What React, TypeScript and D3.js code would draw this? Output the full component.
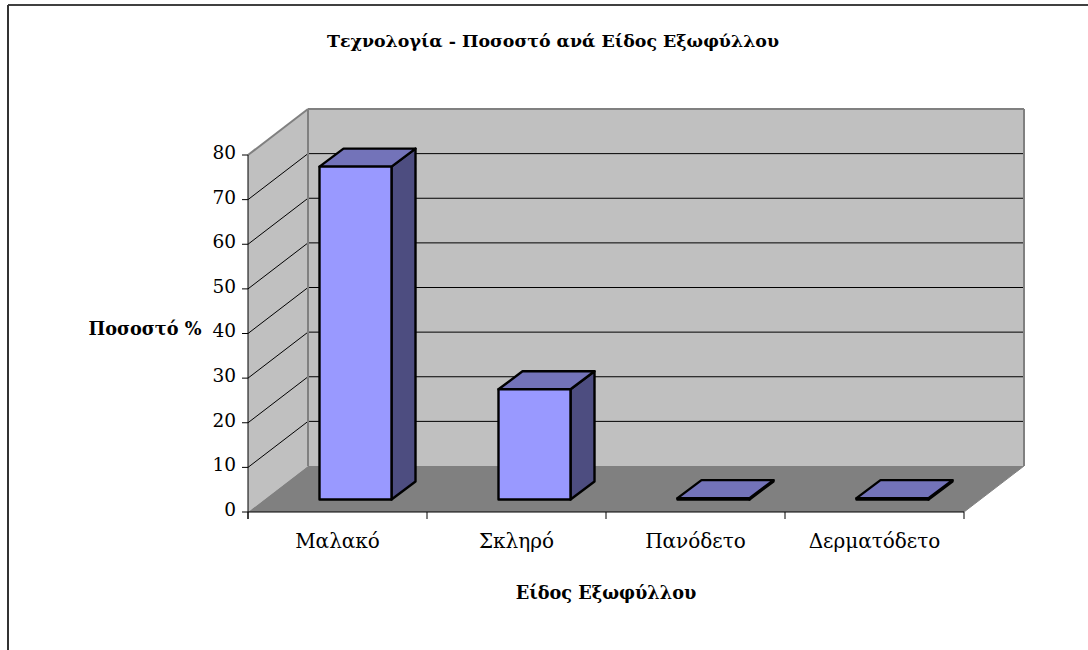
import { useEffect, useRef } from 'react';
import * as d3 from 'd3';

const title = 'Τεχνολογία - Ποσοστό ανά Είδος Εξωφύλλου';
const yTitle = 'Ποσοστό %';
const xTitle = 'Είδος Εξωφύλλου';
const categories = ['Μαλακό', 'Σκληρό', 'Πανόδετο', 'Δερματόδετο'];
const values = [74.6, 24.7, 0.3, 0.3];
const yTicks = [0, 10, 20, 30, 40, 50, 60, 70, 80];

const FONT = '"DejaVu Serif", serif';
const WIDTH = 1088;
const HEIGHT = 650;

function App() {
  const svgRef = useRef<SVGSVGElement>(null);

  useEffect(() => {
    const svg = d3.select(svgRef.current);
    svg.selectAll('*').remove();

    // front edge of the floor, the back wall sits up and right of it
    const y = d3.scaleLinear().domain([0, 80]).range([512, 155]);
    const x = d3.scaleBand<string>().domain(categories).range([248, 964]);
    const depthX = 60;
    const depthY = -46;
    const left = x.range()[0];
    const right = x.range()[1];
    const y0 = y(0);
    const yMax = y(80);

    const poly = (pts: [number, number][], fill: string, stroke = 'none', sw = 0) =>
      svg
        .append('path')
        .attr('d', d3.line()(pts) + 'Z')
        .attr('fill', fill)
        .attr('stroke', stroke)
        .attr('stroke-width', sw)
        .attr('stroke-linejoin', 'round');
    const seg = (x1: number, y1: number, x2: number, y2: number, color: string, sw = 1) =>
      svg
        .append('line')
        .attr('x1', x1)
        .attr('y1', y1)
        .attr('x2', x2)
        .attr('y2', y2)
        .attr('stroke', color)
        .attr('stroke-width', sw);

    // picture frame, only top and left show
    svg.append('rect').attr('width', WIDTH).attr('height', HEIGHT).attr('fill', '#fff');
    seg(8, 5, WIDTH, 5, '#000', 1.5);
    seg(8, 5, 8, HEIGHT, '#333', 2);

    // walls and floor
    poly([[left + depthX, y0 + depthY], [right + depthX, y0 + depthY], [right + depthX, yMax + depthY], [left + depthX, yMax + depthY]], '#c0c0c0');
    poly([[left, y0], [left + depthX, y0 + depthY], [left + depthX, yMax + depthY], [left, yMax]], '#c0c0c0');
    poly([[left, y0], [right, y0], [right + depthX, y0 + depthY], [left + depthX, y0 + depthY]], '#808080');

    // gridlines
    yTicks.slice(1, -1).forEach((t) => {
      seg(left, y(t), left + depthX, y(t) + depthY, '#000');
      seg(left + depthX, y(t) + depthY, right + depthX, y(t) + depthY, '#000');
    });

    // wall outlines
    seg(left, yMax, left + depthX, yMax + depthY, '#808080', 2);
    seg(left + depthX, yMax + depthY, right + depthX, yMax + depthY, '#808080', 2);
    seg(left + depthX, yMax + depthY, left + depthX, y0 + depthY, '#808080', 2);
    seg(right + depthX, yMax + depthY, right + depthX, y0 + depthY, '#808080', 2);

    // axes
    seg(left, yMax, left, y0 + 7, '#000');
    seg(left, y0, right, y0, '#000');
    yTicks.forEach((t) => {
      seg(left - 6, y(t), left, y(t), '#000');
      svg
        .append('text')
        .attr('x', left - 12)
        .attr('y', y(t) - 2)
        .attr('dy', '0.32em')
        .attr('text-anchor', 'end')
        .attr('font-family', FONT)
        .attr('font-size', 18.5)
        .attr('fill', '#000')
        .text(t);
    });
    [...categories.map((c) => x(c) as number), right].forEach((t) => seg(t, y0, t, y0 + 7, '#000'));
    seg(right, y0, right + depthX, y0 + depthY, '#808080', 1);

    // boxes
    const barW = 72;
    const d = { x: 24, y: -18 };
    categories.forEach((c, i) => {
      const cx = (x(c) as number) + x.bandwidth() / 2 + depthX / 2;
      const x0 = cx - barW / 2 - d.x / 2;
      const x1 = x0 + barW;
      const yb = y0 - 12.5;
      const yt = yb - (y0 - y(values[i]));
      poly([[x1, yt], [x1 + d.x, yt + d.y], [x1 + d.x, yb + d.y], [x1, yb]], '#4d4d80', '#000', 2.4);
      poly([[x0, yt], [x0 + d.x, yt + d.y], [x1 + d.x, yt + d.y], [x1, yt]], '#7373b9', '#000', 2.4);
      poly([[x0, yt], [x1, yt], [x1, yb], [x0, yb]], '#9999ff', '#000', 2.4);
      svg
        .append('text')
        .attr('x', (x(c) as number) + x.bandwidth() / 2)
        .attr('y', 548)
        .attr('text-anchor', 'middle')
        .attr('font-family', FONT)
        .attr('font-size', 20)
        .attr('fill', '#000')
        .text(c);
    });

    // titles
    const bold = (tx: number, ty: number, s: string, size: number) =>
      svg
        .append('text')
        .attr('x', tx)
        .attr('y', ty)
        .attr('text-anchor', 'middle')
        .attr('font-family', FONT)
        .attr('font-weight', 'bold')
        .attr('font-size', size)
        .attr('fill', '#000')
        .text(s);
    bold(553, 47, title, 17.4);
    bold(606, 599, xTitle, 17.7);
    bold(145, 335, yTitle, 17.7);
  }, []);

  return (
    <svg
      ref={svgRef}
      width={WIDTH}
      height={HEIGHT}
      style={{ position: 'absolute', left: 0, top: 0, display: 'block' }}
    />
  );
}

export default App;
